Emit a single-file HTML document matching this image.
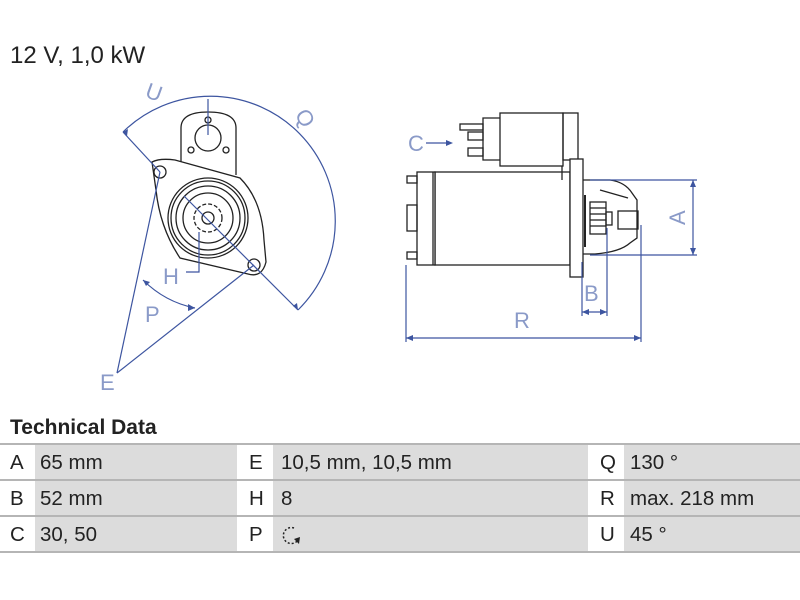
<!DOCTYPE html>
<html><head><meta charset="utf-8"><style>
html,body{margin:0;padding:0;background:#fff;width:800px;height:600px;overflow:hidden;font-family:"Liberation Sans",sans-serif;}
.t{position:absolute;color:#222}
</style></head><body>
<div class="t" style="left:10px;top:42px;font-size:24px;">12 V, 1,0 kW</div>
<svg width="800" height="410" style="position:absolute;left:0;top:0" xmlns="http://www.w3.org/2000/svg">
<g fill="none" stroke="#222" stroke-width="1.3">
 <path d="M181,175 L181,128 Q181,112 208,112 Q236,112 236,128 L236,175"/>
 <circle cx="208" cy="138" r="13"/>
 <circle cx="208" cy="120" r="3"/><circle cx="191" cy="150" r="3"/><circle cx="226" cy="150" r="3"/>
 <path d="M152,162 Q160,158 175,160 L240,178 Q262,200 264,240 L266,262 Q262,278 248,274 L180,258 Q160,228 156,190 Z" fill="#fff"/>
 <circle cx="160" cy="172" r="6"/><circle cx="254" cy="265" r="6"/>
 <circle cx="208" cy="218" r="40" fill="#fff"/>
 <circle cx="208" cy="218" r="37"/>
 <circle cx="208" cy="218" r="32"/>
 <circle cx="208" cy="218" r="25"/>
 <circle cx="208" cy="218" r="14" stroke-dasharray="4 2"/>
 <circle cx="208" cy="218" r="6"/>
</g>
<g fill="none" stroke="#3d55a0" stroke-width="1.2">
 <path d="M123,132 A120 120 0 0 1 298,310"/>
 <line x1="123" y1="132" x2="160" y2="172"/>
 <line x1="184" y1="196" x2="298" y2="310"/>
 <line x1="208" y1="99" x2="208" y2="135"/>
 <line x1="117" y1="373" x2="160" y2="172"/>
 <line x1="117" y1="373" x2="254" y2="265"/>
 <path d="M143,280 Q165,302 195,308"/>
 <path d="M199,232 L199,272 L186,272"/>
</g>
<g font-family="Liberation Sans" font-size="22" fill="#8a9ac8">
 <text x="147" y="100" transform="rotate(20 155 90)">U</text>
 <text x="298" y="128" transform="rotate(60 308 118)">Q</text>
 <text x="163" y="284">H</text>
 <text x="145" y="322">P</text>
 <text x="100" y="390">E</text>
 <text x="408" y="151">C</text>
 <text x="584" y="301">B</text>
 <text x="514" y="328">R</text>
 <text x="670" y="224" transform="rotate(-90 678 217)">A</text>
</g>
<g fill="none" stroke="#222" stroke-width="1.3">
 <rect x="435" y="172" width="135" height="93" fill="#fff"/>
 <rect x="417" y="172" width="18" height="93" fill="#fff"/>
 <line x1="433" y1="172" x2="433" y2="265"/>
 <rect x="407" y="176" width="10" height="7"/><rect x="407" y="252" width="10" height="7"/>
 <rect x="407" y="205" width="10" height="26"/>
 <rect x="500" y="113" width="63" height="53" fill="#fff"/>
 <rect x="563" y="113" width="15" height="47"/>
 <path d="M500,118 L483,118 L483,160 L500,160"/>
 <rect x="460" y="124" width="23" height="6"/><rect x="468" y="132" width="15" height="8"/><rect x="468" y="148" width="15" height="8"/>
 <line x1="562" y1="166" x2="562" y2="180"/>
 <rect x="570" y="159" width="13" height="118" fill="#fff"/>
 <path d="M583,180 L610,180 Q625,182 632,193 L637,200 L637,238 L630,243 Q620,252 595,254 L583,254"/>
 <line x1="585" y1="195" x2="585" y2="247" stroke-width="2"/>
 <rect x="590" y="202" width="16" height="32"/>
 <line x1="590" y1="208" x2="606" y2="208"/><line x1="590" y1="214" x2="606" y2="214"/><line x1="590" y1="220" x2="606" y2="220"/><line x1="590" y1="226" x2="606" y2="226"/>
 <rect x="606" y="212" width="6" height="13"/>
 <rect x="618" y="211" width="20" height="18"/>
 <path d="M600,190 L628,198"/>
</g>
<g fill="none" stroke="#3d55a0" stroke-width="1.2">
 <line x1="590" y1="180" x2="697" y2="180"/><line x1="590" y1="255" x2="697" y2="255"/>
 <line x1="693" y1="180" x2="693" y2="255"/>
 <line x1="582" y1="262" x2="582" y2="316"/><line x1="607" y1="228" x2="607" y2="316"/>
 <line x1="582" y1="312" x2="607" y2="312"/>
 <line x1="406" y1="265" x2="406" y2="342"/><line x1="641" y1="225" x2="641" y2="342"/>
 <line x1="406" y1="338" x2="641" y2="338"/>
 <line x1="426" y1="143" x2="450" y2="143"/>
</g>
<g fill="#3d55a0">
 <path d="M453,143 L446,140 L446,146Z"/>
 <path d="M693,180 L690,187 L696,187Z"/><path d="M693,255 L690,248 L696,248Z"/>
 <path d="M582,312 L589,309 L589,315Z"/><path d="M607,312 L600,309 L600,315Z"/>
 <path d="M406,338 L413,335 L413,341Z"/><path d="M641,338 L634,335 L634,341Z"/>
 <path d="M123,132 L128,129 L127,136Z"/><path d="M298,310 L293,306 L297,303Z"/>
 <path d="M143,280 L150,282 L146,286Z"/><path d="M195,308 L188,304 L188,311Z"/>
</g>
</svg>
<div class="t" style="left:10px;top:416px;font-size:21px;font-weight:bold;">Technical Data</div>
<div style="position:absolute;left:0;top:443px;width:800px;height:110px;">
 <div style="position:absolute;left:35px;top:0;width:202px;height:110px;background:#dcdcdc"></div>
 <div style="position:absolute;left:273px;top:0;width:315px;height:110px;background:#dcdcdc"></div>
 <div style="position:absolute;left:624px;top:0;width:176px;height:110px;background:#dcdcdc"></div>
 <div style="position:absolute;left:0;top:0;width:800px;height:2px;background:#b5b5b5"></div>
 <div style="position:absolute;left:0;top:36px;width:800px;height:2px;background:#b5b5b5"></div>
 <div style="position:absolute;left:0;top:72px;width:800px;height:2px;background:#b5b5b5"></div>
 <div style="position:absolute;left:0;top:108px;width:800px;height:2px;background:#b5b5b5"></div>
</div>
<div style="font-size:20.5px;color:#222">
 <div class="t" style="left:10px;top:451px">A</div><div class="t" style="left:40px;top:451px">65 mm</div>
 <div class="t" style="left:10px;top:487px">B</div><div class="t" style="left:40px;top:487px">52 mm</div>
 <div class="t" style="left:10px;top:523px">C</div><div class="t" style="left:40px;top:523px">30, 50</div>
 <div class="t" style="left:249px;top:451px">E</div><div class="t" style="left:281px;top:451px">10,5 mm, 10,5 mm</div>
 <div class="t" style="left:249px;top:487px">H</div><div class="t" style="left:281px;top:487px">8</div>
 <div class="t" style="left:249px;top:523px">P</div>
 <div class="t" style="left:600px;top:451px">Q</div><div class="t" style="left:630px;top:451px">130 °</div>
 <div class="t" style="left:600px;top:487px">R</div><div class="t" style="left:630px;top:487px">max. 218 mm</div>
 <div class="t" style="left:600px;top:523px">U</div><div class="t" style="left:630px;top:523px">45 °</div>
</div>
<svg width="24" height="24" style="position:absolute;left:280px;top:524px">
 <path d="M14,4 A8 8 0 1 0 18,16" fill="none" stroke="#222" stroke-width="1.5" stroke-dasharray="2 2"/>
 <path d="M19,20 L14,15 L20,13Z" fill="#222"/>
</svg>
</body></html>
